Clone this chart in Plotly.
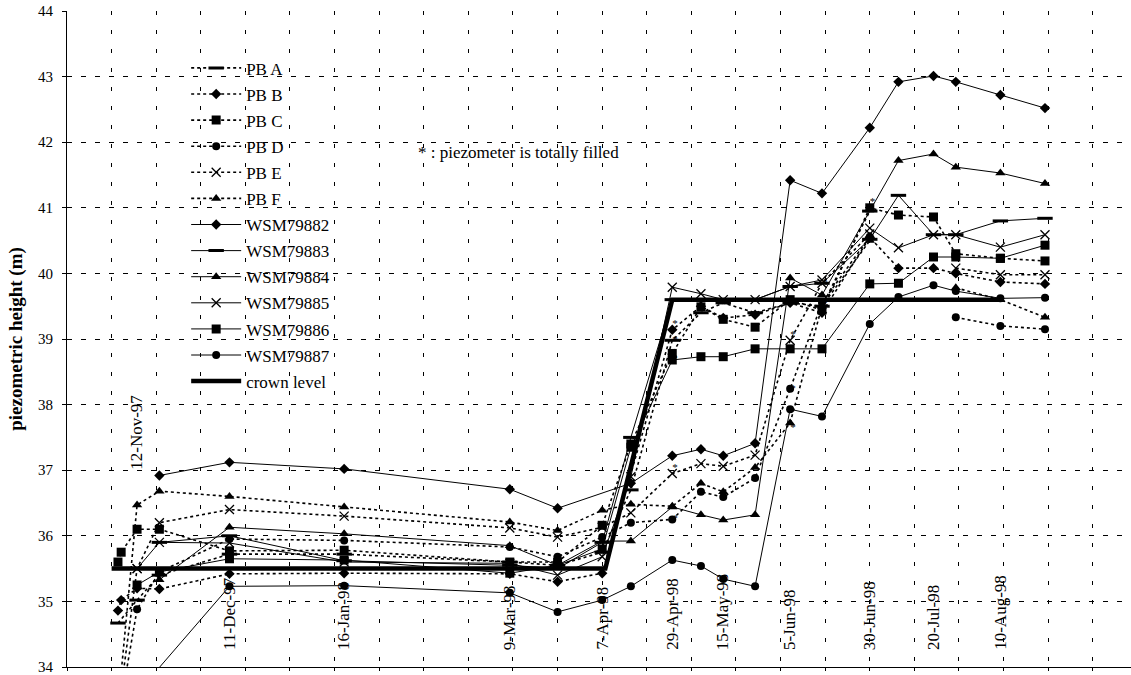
import math
import plotly.graph_objects as go

# ---------------- data ----------------
DATES = ["1997-11-06", "1997-11-07", "1997-11-12", "1997-11-19", "1997-12-11",
         "1998-01-16", "1998-03-09", "1998-03-24", "1998-04-07", "1998-04-16",
         "1998-04-29", "1998-05-08", "1998-05-15", "1998-05-25", "1998-06-05",
         "1998-06-15", "1998-06-30", "1998-07-09", "1998-07-20", "1998-07-27",
         "1998-08-10", "1998-08-24"]

N = None            # no reading on that date
GAP = float("nan")  # break in the record

PB_A = [34.67, N, 35.02, 35.40, 35.72, 35.72, 35.60, 35.55, 35.75, 36.70, 38.98, 39.40,
        39.55, 39.40, 39.55, 39.50, 40.95, N, N, N, N, N]
PB_B = [34.86, 35.02, 35.20, 35.19, 35.42, 35.43, 35.42, 35.30, 35.43, N, 39.14, 39.50,
        39.32, 39.37, 39.55, 39.40, 40.55, 40.08, 40.08, 40.00, 39.87, 39.84]
PB_C = [35.60, 35.75, 36.10, 36.10, 35.77, 35.78, 35.60, 35.60, 36.16, 37.40, 38.78, 39.49,
        39.30, 39.18, 39.60, 39.44, 41.00, 40.89, 40.86, 40.30, 40.23, 40.19]
PB_D = [33.20, N, 34.88, 35.45, 35.95, 35.93, 35.83, 35.68, 35.98, 36.20, 36.25, 36.67,
        36.59, 36.88, 38.24, 39.55, 40.56, GAP, N, 39.33, 39.20, 39.15]
PB_E = [33.30, N, 35.50, 36.20, 36.40, 36.30, 36.12, 35.98, 36.13, 36.35, 36.95, 37.10,
        37.06, 37.23, 38.98, 39.85, 40.60, GAP, N, 40.08, 39.98, 39.98]
PB_F = [33.40, N, 36.47, 36.68, 36.60, 36.44, 36.21, 36.08, 36.39, 36.48, 36.45, 36.80,
        36.67, 37.04, 37.72, 39.50, 40.50, GAP, N, 39.78, 39.60, 39.33]
WSM79882 = [N, N, N, 36.92, 37.12, 37.02, 36.71, 36.42, N, 36.80, 37.22, 37.32,
            37.22, 37.41, 41.42, 41.22, 42.22, 42.92, 43.01, 42.92, 42.72, 42.52]
WSM79883 = [N, N, N, 35.90, 36.00, 35.62, 35.55, 35.50, 35.90, 37.50, 39.60, 39.60,
            39.60, 39.60, 39.80, 39.85, 40.52, 41.19, 40.59, 40.59, 40.80, 40.84]
WSM79884 = [N, N, N, 35.33, 36.13, 36.03, 35.85, 35.55, 35.92, 35.92, 36.44, 36.32,
            36.24, 36.32, 39.93, 39.67, N, 41.72, 41.82, 41.62, 41.53, 41.37]
WSM79885 = [N, N, 35.50, 35.90, 35.89, 35.60, 35.58, 35.40, 35.68, 36.90, 39.79, 39.69,
            39.60, 39.60, 39.80, 39.90, 40.69, 40.39, 40.59, 40.59, 40.40, 40.59]
WSM79886 = [N, N, 35.25, 35.45, 35.65, 35.63, 35.43, 35.55, 35.80, 37.35, 38.68, 38.73,
            38.73, 38.85, 38.85, 38.85, 39.84, 39.85, 40.25, 40.25, 40.23, 40.43]
WSM79887 = [N, N, 33.60, N, 35.23, 35.24, 35.13, 34.84, 35.02, 35.23, 35.63, 35.54,
            35.34, 35.23, 37.93, 37.82, 39.23, 39.64, 39.82, 39.73, 39.62, 39.63]

CROWN_DATES = ["1997-11-04", "1998-04-08", "1998-04-29", "1998-08-10"]
CROWN_LEVEL = [35.5, 35.5, 39.6, 39.6]

SERIES_NAMES = ["PB A", "PB B", "PB C", "PB D", "PB E", "PB F",
                "WSM79882", "WSM79883", "WSM79884", "WSM79885", "WSM79886", "WSM79887"]
SERIES_VALUES = [PB_A, PB_B, PB_C, PB_D, PB_E, PB_F,
                 WSM79882, WSM79883, WSM79884, WSM79885, WSM79886, WSM79887]

# readings where the piezometer was totally filled (series, date)
FILLED = [("PB B", "1998-04-29"), ("PB A", "1998-04-29"), ("PB C", "1998-04-29"),
          ("PB E", "1998-04-29"), ("PB D", "1998-04-29"),
          ("PB E", "1998-06-05"), ("PB D", "1998-06-05"), ("PB F", "1998-06-05"),
          ("PB C", "1998-06-15"), ("PB E", "1998-06-15"), ("PB C", "1998-06-30")]

DATE_LABEL_DATES = ["1997-11-12", "1997-12-11", "1998-01-16", "1998-03-09", "1998-04-07",
                    "1998-04-29", "1998-05-15", "1998-06-05", "1998-06-30", "1998-07-20",
                    "1998-08-10"]
DATE_LABEL_TEXT = ["12-Nov-97", "11-Dec-97", "16-Jan-98", "9-Mar-98", "7-Apr-98",
                   "29-Apr-98", "15-May-98", "5-Jun-98", "30-Jun-98", "20-Jul-98",
                   "10-Aug-98"]

# ---------------- styles ----------------
FONT = "Liberation Serif, Times New Roman, serif"
SYMBOLS = {"PB A": "line-ew", "PB B": "diamond", "PB C": "square", "PB D": "circle",
           "PB E": "x-thin", "PB F": "triangle-up",
           "WSM79882": "diamond", "WSM79883": "line-ew", "WSM79884": "triangle-up",
           "WSM79885": "x-thin", "WSM79886": "square", "WSM79887": "circle"}
SIZES = {"line-ew": 11, "diamond": 8, "square": 9, "circle": 8, "x-thin": 9,
         "triangle-up": 9}
LINE_W = {"line-ew": 3, "x-thin": 1.3}

fig = go.Figure()
lookup = {}
for name, vals in zip(SERIES_NAMES, SERIES_VALUES):
    xs = [d for d, v in zip(DATES, vals) if v is not None]
    ys = [v for v in vals if v is not None]
    lookup[name] = dict(zip(xs, ys))
    sym = SYMBOLS[name]
    is_pb = name.startswith("PB")
    fig.add_trace(go.Scatter(
        x=xs, y=ys, name=name, mode="lines+markers", legendgroup=name,
        line=dict(color="black", width=1.6 if is_pb else 1,
                  dash="3px,3px" if is_pb else "solid"),
        marker=dict(symbol=sym, size=SIZES[sym], color="black",
                    line=dict(color="black", width=LINE_W.get(sym, 0))),
        connectgaps=False,
    ))

fig.add_trace(go.Scatter(
    x=CROWN_DATES, y=CROWN_LEVEL, name="crown level", mode="lines",
    legendgroup="crown", line=dict(color="black", width=4.5)))

# asterisks for totally filled piezometers (stacked ones staggered vertically)
star_pos = []
seen = {}
for s, d in FILLED:
    k = seen.get(d, 0)
    seen[d] = k + 1
    star_pos.append(["top right", "middle right", "bottom right"][k % 3])
fig.add_trace(go.Scatter(
    x=[d for s, d in FILLED], y=[lookup[s][d] for s, d in FILLED],
    mode="text", text=["*"] * len(FILLED), textposition=star_pos,
    textfont=dict(family=FONT, size=11, color="black"), showlegend=False,
    hoverinfo="skip"))

annotations = []
for d, t in zip(DATE_LABEL_DATES, DATE_LABEL_TEXT):
    ybase = 36.97 if t == "12-Nov-97" else 34.23
    annotations.append(dict(x=d, y=ybase, xref="x", yref="y", text=t, showarrow=False,
                            textangle=-90, xanchor="center", yanchor="bottom",
                            font=dict(family=FONT, size=17, color="black")))
annotations.append(dict(x=0.328, y=0.785, xref="paper", yref="paper",
                        text="* : piezometer is totally filled", showarrow=False,
                        xanchor="left", yanchor="middle",
                        font=dict(family=FONT, size=17, color="black")))

fig.update_layout(
    width=1131, height=675,
    margin=dict(l=67, r=0, t=11, b=8),
    paper_bgcolor="white", plot_bgcolor="white",
    font=dict(family=FONT, color="black"),
    showlegend=True,
    legend=dict(x=0.112, y=0.94, xanchor="left", yanchor="top",
                bgcolor="rgba(0,0,0,0)", font=dict(family=FONT, size=17),
                itemwidth=50, tracegroupgap=1),
    annotations=annotations,
    xaxis=dict(type="date", range=["1997-10-21", "1998-09-20"],
               tick0="1997-10-21", dtick=14 * 86400000,
               showticklabels=False, showgrid=True, gridcolor="black", gridwidth=1,
               griddash="4px,15px", showline=True, linecolor="black", linewidth=1,
               ticks="outside", ticklen=3, tickcolor="black", zeroline=False),
    yaxis=dict(range=[34, 44], dtick=1, tick0=34, showgrid=True, gridcolor="black",
               gridwidth=1, griddash="5px,9px", showline=True, linecolor="black",
               linewidth=1, ticks="outside", ticklen=4, tickcolor="black",
               tickfont=dict(family=FONT, size=15, color="black"),
               ticklabeloverflow="allow",
               zeroline=False, ticklabelstandoff=6,
               title=dict(text="<b>piezometric height (m)</b>", standoff=10,
                          font=dict(family=FONT, size=19, color="black"))),
)

fig.write_html("out.html", config={"displayModeBar": False},
               post_script="document.body.style.margin='0px';")
